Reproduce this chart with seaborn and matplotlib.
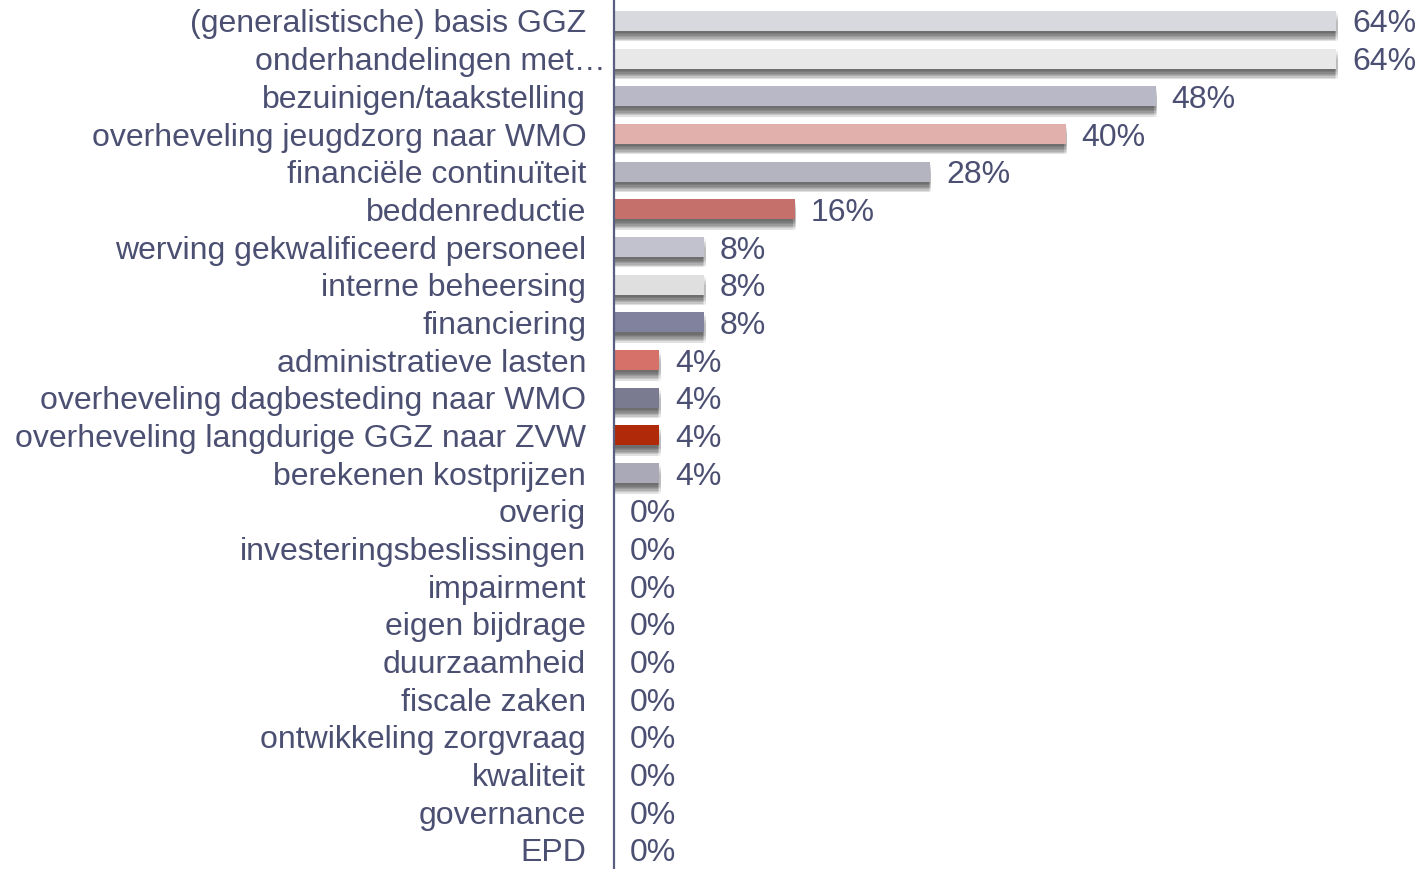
import matplotlib
matplotlib.use("Agg")
import matplotlib.pyplot as plt
import matplotlib.patheffects as pe
from matplotlib.transforms import ScaledTranslation
import pandas as pd
import seaborn as sns

# Data
categories = [
    "(generalistische) basis GGZ", "onderhandelingen met…", "bezuinigen/taakstelling",
    "overheveling jeugdzorg naar WMO", "financiële continuïteit", "beddenreductie",
    "werving gekwalificeerd personeel", "interne beheersing", "financiering",
    "administratieve lasten", "overheveling dagbesteding naar WMO",
    "overheveling langdurige GGZ naar ZVW", "berekenen kostprijzen", "overig",
    "investeringsbeslissingen", "impairment", "eigen bijdrage", "duurzaamheid",
    "fiscale zaken", "ontwikkeling zorgvraag", "kwaliteit", "governance", "EPD",
]
values = [64, 64, 48, 40, 28, 16, 8, 8, 8, 4, 4, 4, 4, 0, 0, 0, 0, 0, 0, 0, 0, 0, 0]
bar_colors = [
    "#d8d9de", "#e8e8e8", "#b8b8c6", "#e2b0ac", "#b4b4c0", "#c5706a",
    "#c2c2ce", "#dfdfdf", "#80829e", "#d6716a", "#7a7b91", "#b02a0a", "#a9a9b8",
] + ["#b4b4c0"] * 10

text_color = "#4b4f72"
df = pd.DataFrame({"category": categories, "value": values})

sns.set_style("white")
plt.rcParams["font.family"] = ["Liberation Sans", "DejaVu Sans"]

fig = plt.figure(figsize=(14.2, 8.69), dpi=100)
ax = fig.add_axes([614 / 1420, 0, 806 / 1420, 1])

sns.barplot(data=df, y="category", x="value", hue="category",
            palette=dict(zip(categories, bar_colors)), legend=False,
            orient="h", width=0.53, saturation=1, linewidth=0, ax=ax)

# soft blurred drop shadow under each bar (stacked faint copies)
offsets = [(dx, dy) for dy in (-1.5, -2.5, -3.5, -4.5, -5.5, -6.5, -7.5)
           for dx in (-1.0, 0.0, 1.0)]
shadow = [pe.SimplePatchShadow(offset=o, shadow_rgbFace="#303030", alpha=0.05)
          for o in offsets]
for p in ax.patches:
    p.set_path_effects(shadow + [pe.Normal()])

for i, v in enumerate(values):
    ax.text(v + 1.4, i, f"{v}%", va="center_baseline", ha="left",
            fontsize=23, color=text_color)

ax.set_xlim(0, 71.4)
ax.set_ylim(22.505, -0.557)
ax.set_xlabel("")
ax.set_ylabel("")
ax.set_xticks([])
ax.tick_params(axis="y", length=0, pad=20, labelsize=23, labelcolor=text_color)
for s in ["top", "right", "bottom"]:
    ax.spines[s].set_visible(False)
ax.spines["left"].set_color("#5a5e80")
ax.spines["left"].set_linewidth(1.6)

lab = ax.get_yticklabels()[1]
lab.set_transform(lab.get_transform() + ScaledTranslation(0.2, 0, fig.dpi_scale_trans))

fig.savefig("out.png", dpi=100, facecolor="white")
